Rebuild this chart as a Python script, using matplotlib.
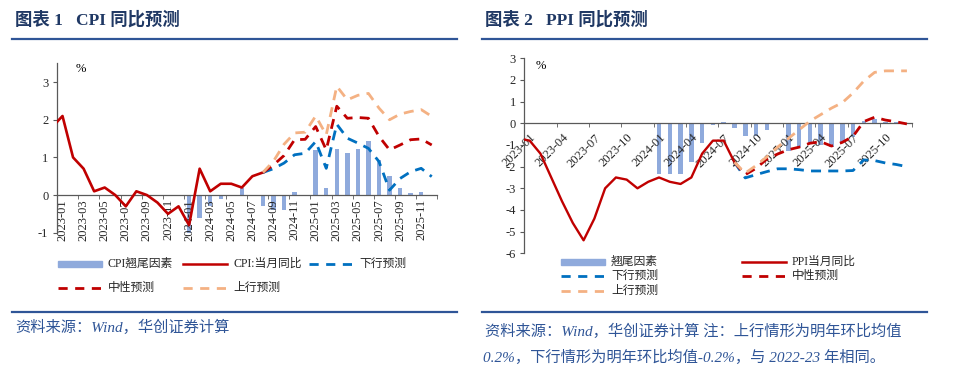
import numpy as np
import pandas as pd
import matplotlib
matplotlib.use('Agg')
import matplotlib.pyplot as plt
from matplotlib.lines import Line2D
from matplotlib.patches import Rectangle

W, H = 960, 372

plt.rcParams['font.family'] = ['Liberation Serif', 'Noto Sans CJK SC']
plt.rcParams['axes.unicode_minus'] = False

BAR = '#8FAADC'
RED = '#C00000'
BLUE = '#0070C0'
PEACH = '#F4B183'
NAVY = '#1F3864'
RULE = '#2F5597'
AXIS = '#595959'

months = list(pd.period_range('2022-12', '2025-12', freq='M').strftime('%Y-%m'))
pos = np.arange(len(months)) - 1.0   # 2023-01 sits at 0

# CPI, %
cpi_actual = [1.8, 2.1, 1.0, 0.7, 0.1, 0.2, 0.0, -0.3, 0.1, 0.0, -0.2, -0.5, -0.3,
              -0.8, 0.7, 0.1, 0.3, 0.3, 0.2, 0.5, 0.6]            # from 2022-12
cpi_carry = [-1.0, -0.6, -0.3, -0.1, 0.0, 0.18, 0.0, -0.3, -0.4, -0.4, 0.09, 0.0,
             1.2, 0.2, 1.23, 1.11, 1.23, 1.44, 0.92, 0.51, 0.18, 0.05, 0.07, 0.0]  # from 2024-01
cpi_down = [0.6, 0.7, 0.85, 1.07, 1.11, 1.42, 0.71, 1.88, 1.51, 1.38, 1.24, 0.89,
            0.13, 0.44, 0.62, 0.71, 0.49]                            # from 2024-08
cpi_mid = [0.6, 0.8, 1.05, 1.47, 1.48, 1.82, 1.2, 2.36, 2.04, 2.06, 2.04, 1.56,
           1.2, 1.33, 1.47, 1.49, 1.33]
cpi_up = [0.6, 0.9, 1.35, 1.65, 1.67, 2.1, 1.6, 2.89, 2.53, 2.65, 2.7, 2.31,
          2.0, 2.15, 2.22, 2.27, 2.09]

# PPI, %
ppi_actual = [-0.7, -0.8, -1.4, -2.5, -3.6, -4.6, -5.4, -4.4, -3.0, -2.5, -2.6, -3.0,
              -2.7, -2.5, -2.7, -2.8, -2.5, -1.4, -0.8, -0.8, -1.8]  # from 2022-12
ppi_carry = [-2.34, -2.34, -2.34, -1.8, -0.92, -0.1, 0.08, -0.2, -0.6, -0.57, -0.3, 0.0,
             -1.3, -1.1, -0.95, -1.0, -1.1, -0.92, -0.65, 0.1, 0.2, 0.08, 0.05, 0.0]  # from 2024-01
ppi_down = [-1.8, -2.52, -2.37, -2.23, -2.1, -2.1, -2.14, -2.2, -2.2, -2.2, -2.2, -2.18,
            -1.69, -1.72, -1.83, -1.9, -2.0]                          # from 2024-08
ppi_mid = [-1.8, -2.37, -2.08, -1.65, -1.42, -1.22, -1.1, -0.92, -0.85, -1.05, -0.88, -0.6,
           0.08, 0.28, 0.15, 0.07, -0.03]
ppi_up = [-1.8, -2.3, -1.95, -1.55, -1.1, -0.7, -0.3, 0.1, 0.4, 0.7, 0.95, 1.4,
          1.95, 2.35, 2.42, 2.42, 2.42]


def seg(start, values):
    i = months.index(start)
    return pos[i:i + len(values)]


def fx(px):
    return px / W


def fy(py):
    return 1 - py / H


def draw_panel(ax, actual, carry, down, mid, up, step, ylim, lw_act):
    ax.bar(seg('2024-01', carry), carry, width=0.42, color=BAR, zorder=1)
    ax.plot(seg('2022-12', actual), actual, color=RED, lw=lw_act, zorder=3,
            solid_joinstyle='round')
    for vals, col in [(down, BLUE), (mid, RED), (up, PEACH)]:
        ax.plot(seg('2024-08', vals), vals, color=col, lw=2.0, dashes=(3.6, 2.6),
                dash_capstyle='butt', zorder=4)
    ax.set_ylim(*ylim)
    ax.set_yticks(range(ylim[0], int(ylim[1]) + 1))
    ax.spines[['top', 'right']].set_visible(False)
    ax.spines['bottom'].set_position(('data', 0))
    for s in ['left', 'bottom']:
        ax.spines[s].set_color(AXIS)
        ax.spines[s].set_linewidth(0.9)
    ax.set_xticks(pos[1::step])
    ax.set_xticklabels(months[1::step])
    ax.set_xticks(np.arange(-0.5, 35.6, step), minor=True)
    ax.tick_params(axis='x', which='major', length=0, labelsize=9, colors='#262626')
    ax.tick_params(axis='x', which='minor', length=3, color=AXIS, direction='out')
    ax.tick_params(axis='y', length=3, color=AXIS, labelsize=9, pad=3,
                   labelcolor='#262626')
    ax.set_facecolor('none')


def legend_entry(x0, y, label, kind, color):
    x1 = x0 + 44
    if kind == 'bar':
        fig.add_artist(Rectangle((fx(x0), fy(y + 3)), fx(44), 6 / H, color=color,
                                 transform=fig.transFigure))
    elif kind == 'solid':
        fig.add_artist(Line2D([fx(x0), fx(x1)], [fy(y), fy(y)], color=color, lw=1.8))
    else:
        fig.add_artist(Line2D([fx(x0), fx(x1)], [fy(y), fy(y)], color=color, lw=2.0,
                              dashes=(3.3, 2.7), dash_capstyle='butt'))
    fig.text(fx(x1 + 6), fy(y), label, fontsize=8.5, va='center', color='#262626')


fig = plt.figure(figsize=(9.6, 3.72), dpi=100)

# ---- left: CPI
ax1 = fig.add_axes([fx(56.7), fy(232.7), fx(437 - 56.7), (232.7 - 63.3) / H])
draw_panel(ax1, cpi_actual, cpi_carry, cpi_down, cpi_mid, cpi_up, 2, (-1, 3.5), 1.9)
ax1.set_xlim(-0.55, 35.5)
ax1.tick_params(axis='x', which='major', rotation=90, pad=3)
ax1.text(0.05, 0.965, '%', transform=ax1.transAxes, fontsize=9, va='center')

# ---- right: PPI
ax2 = fig.add_axes([fx(524.3), fy(253.3), fx(912.3 - 524.3), (253.3 - 58.3) / H])
draw_panel(ax2, ppi_actual, ppi_carry, ppi_down, ppi_mid, ppi_up, 3, (-6, 3), 1.7)
ax2.set_xlim(-0.5, 35.5)
ax2.tick_params(axis='x', which='major', pad=6)
for lab in ax2.get_xticklabels():
    lab.set_rotation(45)
    lab.set_ha('right')
    lab.set_va('top')
    lab.set_rotation_mode('anchor')
ax2.text(0.028, 0.96, '%', transform=ax2.transAxes, fontsize=9, va='center')

# ---- titles and rules
fig.text(fx(15), fy(20), '图表 1   CPI 同比预测', fontsize=12.5, fontweight='bold',
         color=NAVY, va='center')
fig.text(fx(485), fy(20), '图表 2   PPI 同比预测', fontsize=12.5, fontweight='bold',
         color=NAVY, va='center')
for x0, x1 in [(12, 457), (482, 927)]:
    for y in (39, 312):
        fig.add_artist(Line2D([fx(x0), fx(x1)], [fy(y), fy(y)], color=RULE, lw=1.6))

# ---- legends
legend_entry(58, 264, 'CPI翘尾因素', 'bar', BAR)
legend_entry(183, 264, 'CPI:当月同比', 'solid', RED)
legend_entry(309, 264, '下行预测', 'dash', BLUE)
legend_entry(58, 288, '中性预测', 'dash', RED)
legend_entry(183, 288, '上行预测', 'dash', PEACH)

legend_entry(561, 262, '翘尾因素', 'bar', BAR)
legend_entry(742, 262, 'PPI当月同比', 'solid', RED)
legend_entry(561, 276, '下行预测', 'dash', BLUE)
legend_entry(742, 276, '中性预测', 'dash', RED)
legend_entry(561, 291, '上行预测', 'dash', PEACH)

# ---- sources
src = dict(fontsize=11, style='italic', color='#2F5597', va='center')
fig.text(fx(15), fy(327), '资料来源：Wind，华创证券计算', **src)
fig.text(fx(485), fy(331), '资料来源：Wind，华创证券计算 注：上行情形为明年环比均值', **src)
fig.text(fx(483), fy(357), '0.2%，下行情形为明年环比均值-0.2%，与 2022-23 年相同。', **src)

fig.savefig('out.png', dpi=100, facecolor='white')
